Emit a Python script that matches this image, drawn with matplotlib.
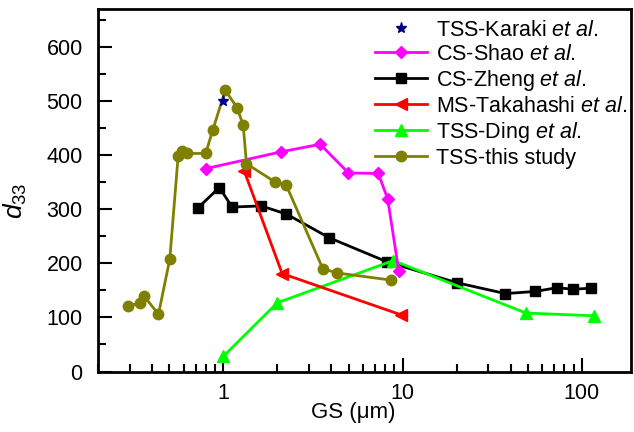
import matplotlib.pyplot as plt

plt.rcParams['font.family'] = ['Liberation Sans', 'DejaVu Sans']
plt.rcParams['mathtext.fontset'] = 'custom'
plt.rcParams['mathtext.rm'] = 'Liberation Sans'
plt.rcParams['mathtext.it'] = 'Liberation Sans:italic'

# grain size (um) and d33 values
karaki_gs = [1.0]
karaki_d33 = [500]

shao_gs = [0.80, 2.10, 3.47, 4.99, 7.32, 8.26, 9.53]
shao_d33 = [375, 406, 420, 367, 366, 319, 185]

zheng_gs = [0.72, 0.95, 1.12, 1.63, 2.25, 3.91, 8.15, 20.1, 37.5, 55, 73, 89, 113]
zheng_d33 = [302, 340, 304, 306, 291, 247, 203, 164, 144, 148, 155, 152, 154]

taka_gs = [1.31, 2.13, 9.75]
taka_d33 = [370, 181, 105]

ding_gs = [1.0, 2.0, 8.87, 48.8, 117]
ding_d33 = [28, 127, 205, 108, 103]

this_gs = [0.293, 0.344, 0.362, 0.435, 0.503, 0.560, 0.592, 0.631, 0.797, 0.875,
           1.026, 1.196, 1.291, 1.347, 1.95, 2.24, 3.59, 4.33, 8.61]
this_d33 = [121, 127, 139, 106, 208, 399, 407, 403, 403, 447,
            520, 487, 455, 384, 350, 345, 190, 182, 169]

fig = plt.figure(figsize=(6.34, 4.32), dpi=100)
ax = fig.add_axes([98 / 634, 1 - 371.5 / 432, 533 / 634, 362.5 / 432])

lw = 2.0
h_zheng, = ax.plot(zheng_gs, zheng_d33, '-s', color='black', lw=lw, ms=6.5, zorder=2)
h_ding, = ax.plot(ding_gs, ding_d33, '-^', color='#00ff00', lw=lw, ms=8, zorder=3)
h_shao, = ax.plot(shao_gs, shao_d33, '-D', color='#ff00ff', lw=lw, ms=6.5, zorder=4)
h_taka, = ax.plot(taka_gs, taka_d33, '-<', color='#ff0000', lw=lw, ms=8, zorder=5)
h_this, = ax.plot(this_gs, this_d33, '-o', color='#808000', lw=lw, ms=7.5, zorder=6)
h_kar, = ax.plot(karaki_gs, karaki_d33, '*', color='#000080', ms=8, lw=0, zorder=7)

ax.set_xscale('log')
ax.set_xlim(0.2, 188)
ax.set_ylim(0, 670)
ax.set_yticks(range(0, 601, 100))
ax.set_yticks(range(50, 670, 100), minor=True)
ax.set_xticks([1, 10, 100])
ax.set_xticklabels(['1', '10', '100'])

for s in ax.spines.values():
    s.set_linewidth(2)
ax.tick_params(which='both', direction='in', width=1.5, labelsize=15.5)
ax.tick_params(which='major', length=10)
ax.tick_params(which='minor', length=5.5)
ax.tick_params(axis='y', pad=11)
ax.tick_params(axis='x', pad=8)

ax.set_xlabel('GS (μm)', fontsize=16)
ax.xaxis.set_label_coords((353 - 98) / 533, -0.085)
ax.set_ylabel('$d_{33}$', fontsize=19)
ax.yaxis.set_label_coords(-0.13, 0.47)

labels = ['TSS-Karaki $\\it{et\\ al.}$', 'CS-Shao $\\it{et\\ al.}$', 'CS-Zheng $\\it{et\\ al.}$',
          'MS-Takahashi $\\it{et\\ al.}$', 'TSS-Ding $\\it{et\\ al.}$', 'TSS-this study']
ax.legend([h_kar, h_shao, h_zheng, h_taka, h_ding, h_this], labels,
          loc='upper left', bbox_to_anchor=(0.5, 1.0), frameon=False, fontsize=15.5,
          handlelength=2.4, handletextpad=0.4, labelspacing=0.14, borderaxespad=0.1)

fig.savefig('out.png', dpi=100)
